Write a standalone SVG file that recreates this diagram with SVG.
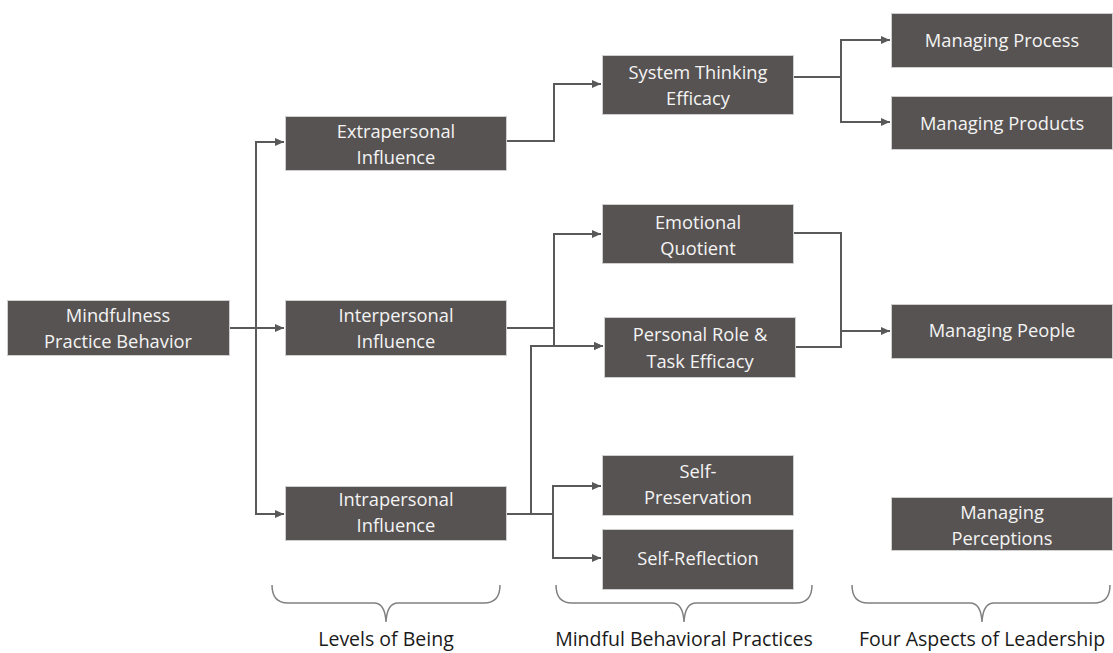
<svg xmlns="http://www.w3.org/2000/svg" width="1113" height="653" viewBox="0 0 1113 653">
<defs>
<marker id="arr" markerUnits="userSpaceOnUse" markerWidth="10" markerHeight="10" refX="9" refY="5" orient="auto">
<path d="M0,1 L9,5 L0,9 z" fill="#595959"/>
</marker>
<style>
.box{fill:#575352;stroke:#d0cfcf;stroke-width:1}
.t{font-family:"Open Sans","Liberation Sans",sans-serif;font-size:18.3px;fill:#f4f4f4;text-anchor:middle}
.lbl{font-family:"Open Sans","Liberation Sans",sans-serif;font-size:19.5px;fill:#1a1a1a;text-anchor:middle}
.c{fill:none;stroke:#595959;stroke-width:2}
.a{marker-end:url(#arr)}
.br{fill:none;stroke:#808080;stroke-width:1.5}
</style>
</defs>
<rect width="1113" height="653" fill="#ffffff"/>
<g id="connectors">
<path class="c a" d="M229,328 H284"/>
<path class="c a" d="M256,328 V142 H284"/>
<path class="c a" d="M256,328 V514 H284"/>
<path class="c a" d="M506,141 H554 V84 H601"/>
<path class="c a" d="M793,77 H841 V40 H890"/>
<path class="c a" d="M841,77 V122 H890"/>
<path class="c" d="M506,328 H554"/>
<path class="c a" d="M554,328 V234 H601"/>
<path class="c a" d="M554,328 V346 H603"/>
<path class="c" d="M506,514 H553"/>
<path class="c a" d="M531,514 V346 H603"/>
<path class="c a" d="M553,514 V486 H601"/>
<path class="c a" d="M553,514 V558 H601"/>
<path class="c" d="M793,233 H841 V347 H795"/>
<path class="c a" d="M841,331 H890"/>
</g>
<g id="mpb"><rect class="box" x="7.5" y="300.5" width="222" height="55"/><text class="t" x="118" y="322">Mindfulness</text><text class="t" x="118" y="348">Practice Behavior</text></g>
<g id="extra"><rect class="box" x="285.5" y="116.5" width="221" height="54"/><text class="t" x="396" y="138">Extrapersonal</text><text class="t" x="396" y="164">Influence</text></g>
<g id="inter"><rect class="box" x="285.5" y="300.5" width="221" height="55"/><text class="t" x="396" y="322">Interpersonal</text><text class="t" x="396" y="348">Influence</text></g>
<g id="intra"><rect class="box" x="285.5" y="486.5" width="221" height="54"/><text class="t" x="396" y="506">Intrapersonal</text><text class="t" x="396" y="532">Influence</text></g>
<g id="ste"><rect class="box" x="602.5" y="55.5" width="191" height="59"/><text class="t" x="698" y="79">System Thinking</text><text class="t" x="698" y="105">Efficacy</text></g>
<g id="eq"><rect class="box" x="602.5" y="204.5" width="191" height="59"/><text class="t" x="698" y="229">Emotional</text><text class="t" x="698" y="255">Quotient</text></g>
<g id="prte"><rect class="box" x="604.5" y="317.5" width="191" height="60"/><text class="t" x="700" y="341">Personal Role &amp;</text><text class="t" x="700" y="368">Task Efficacy</text></g>
<g id="sp"><rect class="box" x="602.5" y="455.5" width="191" height="60"/><text class="t" x="698" y="478">Self-</text><text class="t" x="698" y="504">Preservation</text></g>
<g id="sr"><rect class="box" x="602.5" y="529.5" width="191" height="60"/><text class="t" x="698" y="565">Self-Reflection</text></g>
<g id="mproc"><rect class="box" x="891.5" y="13.5" width="221" height="54"/><text class="t" x="1002" y="47">Managing Process</text></g>
<g id="mprod"><rect class="box" x="891.5" y="96.5" width="221" height="53"/><text class="t" x="1002" y="130">Managing Products</text></g>
<g id="mpeople"><rect class="box" x="891.5" y="304.5" width="221" height="54"/><text class="t" x="1002" y="337">Managing People</text></g>
<g id="mperc"><rect class="box" x="891.5" y="497.5" width="221" height="53"/><text class="t" x="1002" y="519">Managing</text><text class="t" x="1002" y="545">Perceptions</text></g>
<g id="braces">
<path class="br" d="M272,585 Q272,603 288,603 H374 Q385,603 386,622 Q387,603 398,603 H484 Q500,603 500,585"/>
<path class="br" d="M556,585 Q556,603 572,603 H672 Q683,603 684,622 Q685,603 696,603 H796 Q812,603 812,585"/>
<path class="br" d="M852,585 Q852,603 868,603 H970 Q981,603 982,622 Q983,603 994,603 H1094 Q1110,603 1110,585"/>
</g>
<g id="labels">
<text class="lbl" x="386" y="646">Levels of Being</text>
<text class="lbl" x="684" y="646">Mindful Behavioral Practices</text>
<text class="lbl" x="982" y="646">Four Aspects of Leadership</text>
</g>
</svg>
